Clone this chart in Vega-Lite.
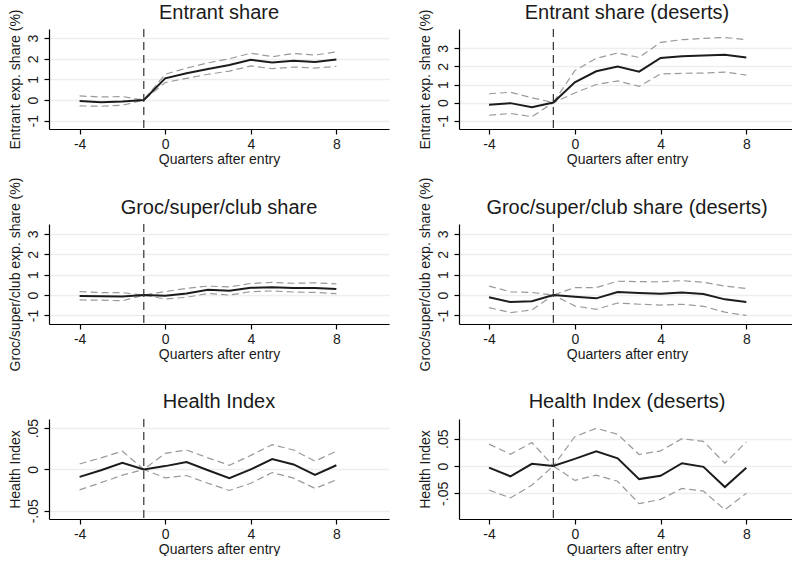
{
  "$schema": "https://vega.github.io/schema/vega-lite/v6.json",
  "padding": {"left": 7, "top": 2, "right": 0, "bottom": 0},
  "background": "white",
  "datasets": {
    "coef": [
      {"panel": "p1", "q": -4, "est": -0.05, "lo": -0.28, "hi": 0.2},
      {"panel": "p1", "q": -3, "est": -0.1, "lo": -0.3, "hi": 0.15},
      {"panel": "p1", "q": -2, "est": -0.07, "lo": -0.25, "hi": 0.17},
      {"panel": "p1", "q": -1, "est": 0, "lo": 0, "hi": 0},
      {"panel": "p1", "q": 0, "est": 1.05, "lo": 0.85, "hi": 1.25},
      {"panel": "p1", "q": 1, "est": 1.3, "lo": 1.05, "hi": 1.55},
      {"panel": "p1", "q": 2, "est": 1.5, "lo": 1.25, "hi": 1.8},
      {"panel": "p1", "q": 3, "est": 1.7, "lo": 1.4, "hi": 2.0},
      {"panel": "p1", "q": 4, "est": 1.95, "lo": 1.65, "hi": 2.27},
      {"panel": "p1", "q": 5, "est": 1.82, "lo": 1.52, "hi": 2.1},
      {"panel": "p1", "q": 6, "est": 1.9, "lo": 1.6, "hi": 2.25},
      {"panel": "p1", "q": 7, "est": 1.84, "lo": 1.55, "hi": 2.18},
      {"panel": "p1", "q": 8, "est": 1.96, "lo": 1.63, "hi": 2.33},

      {"panel": "p2", "q": -4, "est": -0.12, "lo": -0.7, "hi": 0.49},
      {"panel": "p2", "q": -3, "est": -0.03, "lo": -0.6, "hi": 0.57},
      {"panel": "p2", "q": -2, "est": -0.26, "lo": -0.78, "hi": 0.27},
      {"panel": "p2", "q": -1, "est": 0, "lo": 0, "hi": 0},
      {"panel": "p2", "q": 0, "est": 1.12, "lo": 0.53, "hi": 1.77},
      {"panel": "p2", "q": 1, "est": 1.73, "lo": 1.0, "hi": 2.45},
      {"panel": "p2", "q": 2, "est": 1.99, "lo": 1.2, "hi": 2.74},
      {"panel": "p2", "q": 3, "est": 1.71, "lo": 0.9, "hi": 2.5},
      {"panel": "p2", "q": 4, "est": 2.47, "lo": 1.58, "hi": 3.33},
      {"panel": "p2", "q": 5, "est": 2.56, "lo": 1.62, "hi": 3.48},
      {"panel": "p2", "q": 6, "est": 2.6, "lo": 1.63, "hi": 3.55},
      {"panel": "p2", "q": 7, "est": 2.65, "lo": 1.69, "hi": 3.6},
      {"panel": "p2", "q": 8, "est": 2.5, "lo": 1.52, "hi": 3.48},

      {"panel": "p3", "q": -4, "est": -0.04, "lo": -0.24, "hi": 0.17},
      {"panel": "p3", "q": -3, "est": -0.06, "lo": -0.25, "hi": 0.12},
      {"panel": "p3", "q": -2, "est": -0.07, "lo": -0.28, "hi": 0.12},
      {"panel": "p3", "q": -1, "est": 0, "lo": 0, "hi": 0},
      {"panel": "p3", "q": 0, "est": -0.03, "lo": -0.19, "hi": 0.17},
      {"panel": "p3", "q": 1, "est": 0.08, "lo": -0.11, "hi": 0.33},
      {"panel": "p3", "q": 2, "est": 0.26, "lo": 0.08, "hi": 0.44},
      {"panel": "p3", "q": 3, "est": 0.21, "lo": 0.0, "hi": 0.4},
      {"panel": "p3", "q": 4, "est": 0.36, "lo": 0.17, "hi": 0.57},
      {"panel": "p3", "q": 5, "est": 0.38, "lo": 0.2, "hi": 0.62},
      {"panel": "p3", "q": 6, "est": 0.35, "lo": 0.15, "hi": 0.58},
      {"panel": "p3", "q": 7, "est": 0.35, "lo": 0.13, "hi": 0.6},
      {"panel": "p3", "q": 8, "est": 0.3, "lo": 0.07, "hi": 0.55},

      {"panel": "p4", "q": -4, "est": -0.11, "lo": -0.62, "hi": 0.44},
      {"panel": "p4", "q": -3, "est": -0.34, "lo": -0.86, "hi": 0.16},
      {"panel": "p4", "q": -2, "est": -0.3, "lo": -0.73, "hi": 0.13},
      {"panel": "p4", "q": -1, "est": 0, "lo": 0, "hi": 0},
      {"panel": "p4", "q": 0, "est": -0.08, "lo": -0.53, "hi": 0.37},
      {"panel": "p4", "q": 1, "est": -0.16, "lo": -0.7, "hi": 0.37},
      {"panel": "p4", "q": 2, "est": 0.15, "lo": -0.39, "hi": 0.68},
      {"panel": "p4", "q": 3, "est": 0.1, "lo": -0.45, "hi": 0.66},
      {"panel": "p4", "q": 4, "est": 0.07, "lo": -0.49, "hi": 0.65},
      {"panel": "p4", "q": 5, "est": 0.13, "lo": -0.45, "hi": 0.71},
      {"panel": "p4", "q": 6, "est": 0.05, "lo": -0.55, "hi": 0.63},
      {"panel": "p4", "q": 7, "est": -0.21, "lo": -0.84, "hi": 0.44},
      {"panel": "p4", "q": 8, "est": -0.34, "lo": -1.0, "hi": 0.32},

      {"panel": "p5", "q": -4, "est": -0.009, "lo": -0.0247, "hi": 0.0066},
      {"panel": "p5", "q": -3, "est": -0.001, "lo": -0.016, "hi": 0.014},
      {"panel": "p5", "q": -2, "est": 0.008, "lo": -0.007, "hi": 0.022},
      {"panel": "p5", "q": -1, "est": 0, "lo": 0, "hi": 0},
      {"panel": "p5", "q": 0, "est": 0.004, "lo": -0.0102, "hi": 0.0195},
      {"panel": "p5", "q": 1, "est": 0.009, "lo": -0.0074, "hi": 0.0235},
      {"panel": "p5", "q": 2, "est": -0.001, "lo": -0.0167, "hi": 0.014},
      {"panel": "p5", "q": 3, "est": -0.0106, "lo": -0.0255, "hi": 0.005},
      {"panel": "p5", "q": 4, "est": 0.0, "lo": -0.0167, "hi": 0.017},
      {"panel": "p5", "q": 5, "est": 0.0126, "lo": -0.0038, "hi": 0.03},
      {"panel": "p5", "q": 6, "est": 0.006, "lo": -0.0106, "hi": 0.0235},
      {"panel": "p5", "q": 7, "est": -0.0066, "lo": -0.023, "hi": 0.01},
      {"panel": "p5", "q": 8, "est": 0.005, "lo": -0.0127, "hi": 0.022},

      {"panel": "p6", "q": -4, "est": -0.003, "lo": -0.044, "hi": 0.04},
      {"panel": "p6", "q": -3, "est": -0.019, "lo": -0.0585, "hi": 0.0215},
      {"panel": "p6", "q": -2, "est": 0.004, "lo": -0.035, "hi": 0.043},
      {"panel": "p6", "q": -1, "est": 0, "lo": 0, "hi": 0},
      {"panel": "p6", "q": 0, "est": 0.013, "lo": -0.0264, "hi": 0.0536},
      {"panel": "p6", "q": 1, "est": 0.027, "lo": -0.0167, "hi": 0.069},
      {"panel": "p6", "q": 2, "est": 0.014, "lo": -0.028, "hi": 0.058},
      {"panel": "p6", "q": 3, "est": -0.024, "lo": -0.069, "hi": 0.021},
      {"panel": "p6", "q": 4, "est": -0.018, "lo": -0.061, "hi": 0.0276},
      {"panel": "p6", "q": 5, "est": 0.005, "lo": -0.041, "hi": 0.05},
      {"panel": "p6", "q": 6, "est": -0.0015, "lo": -0.046, "hi": 0.045},
      {"panel": "p6", "q": 7, "est": -0.0385, "lo": -0.08, "hi": 0.005},
      {"panel": "p6", "q": 8, "est": -0.003, "lo": -0.05, "hi": 0.044}
    ]
  },
  "columns": 2,
  "bounds": "flush",
  "spacing": {"row": 95, "column": 70},
  "concat": [
    {
      "title": {"text": "Entrant share", "offset": -14},
      "width": 340, "height": 100,
      "layer": [
        {
          "data": {"name": "coef"},
          "transform": [{"filter": "datum.panel == 'p1'"}, {"fold": ["lo", "hi"], "as": ["bound", "value"]}],
          "mark": {"type": "line", "color": "#9a9a9a", "strokeWidth": 1.2, "strokeDash": [7, 4]},
          "encoding": {
            "x": {"field": "q", "type": "quantitative", "scale": {"domain": [-5.43, 10.46], "nice": false, "zero": false}, "axis": {"title": "Quarters after entry", "values": [-4, 0, 4, 8]}},
            "y": {"field": "value", "type": "quantitative", "scale": {"domain": [-1.4, 3.44], "nice": false, "zero": false}, "axis": {"title": "Entrant exp. share (%)", "values": [-1, 0, 1, 2, 3]}},
            "detail": {"field": "bound"}
          }
        },
        {
          "data": {"name": "coef"},
          "transform": [{"filter": "datum.panel == 'p1'"}],
          "mark": {"type": "line", "color": "#1c1c1c", "strokeWidth": 2},
          "encoding": {
            "x": {"field": "q", "type": "quantitative", "scale": {"domain": [-5.43, 10.46], "nice": false, "zero": false}, "axis": {"title": "Quarters after entry", "values": [-4, 0, 4, 8]}},
            "y": {"field": "est", "type": "quantitative", "scale": {"domain": [-1.4, 3.44], "nice": false, "zero": false}, "axis": {"title": "Entrant exp. share (%)", "values": [-1, 0, 1, 2, 3]}}
          }
        },
        {
          "data": {"values": [{"q": -1}]},
          "mark": {"type": "rule", "color": "#333333", "strokeWidth": 1.2, "strokeDash": [8, 5]},
          "encoding": {"x": {"field": "q", "type": "quantitative", "scale": {"domain": [-5.43, 10.46], "nice": false, "zero": false}}}
        }
      ]
    },
    {
      "title": {"text": "Entrant share (deserts)", "offset": -14},
      "width": 336, "height": 100,
      "layer": [
        {
          "data": {"name": "coef"},
          "transform": [{"filter": "datum.panel == 'p2'"}, {"fold": ["lo", "hi"], "as": ["bound", "value"]}],
          "mark": {"type": "line", "color": "#9a9a9a", "strokeWidth": 1.2, "strokeDash": [7, 4]},
          "encoding": {
            "x": {"field": "q", "type": "quantitative", "scale": {"domain": [-5.4, 10.27], "nice": false, "zero": false}, "axis": {"title": "Quarters after entry", "values": [-4, 0, 4, 8]}},
            "y": {"field": "value", "type": "quantitative", "scale": {"domain": [-1.46, 4.07], "nice": false, "zero": false}, "axis": {"title": "Entrant exp. share (%)", "values": [-1, 0, 1, 2, 3]}},
            "detail": {"field": "bound"}
          }
        },
        {
          "data": {"name": "coef"},
          "transform": [{"filter": "datum.panel == 'p2'"}],
          "mark": {"type": "line", "color": "#1c1c1c", "strokeWidth": 2},
          "encoding": {
            "x": {"field": "q", "type": "quantitative", "scale": {"domain": [-5.4, 10.27], "nice": false, "zero": false}, "axis": {"title": "Quarters after entry", "values": [-4, 0, 4, 8]}},
            "y": {"field": "est", "type": "quantitative", "scale": {"domain": [-1.46, 4.07], "nice": false, "zero": false}, "axis": {"title": "Entrant exp. share (%)", "values": [-1, 0, 1, 2, 3]}}
          }
        },
        {
          "data": {"values": [{"q": -1}]},
          "mark": {"type": "rule", "color": "#333333", "strokeWidth": 1.2, "strokeDash": [8, 5]},
          "encoding": {"x": {"field": "q", "type": "quantitative", "scale": {"domain": [-5.4, 10.27], "nice": false, "zero": false}}}
        }
      ]
    },
    {
      "title": {"text": "Groc/super/club share", "offset": -41},
      "width": 340, "height": 100,
      "layer": [
        {
          "data": {"name": "coef"},
          "transform": [{"filter": "datum.panel == 'p3'"}, {"fold": ["lo", "hi"], "as": ["bound", "value"]}],
          "mark": {"type": "line", "color": "#9a9a9a", "strokeWidth": 1.2, "strokeDash": [7, 4]},
          "encoding": {
            "x": {"field": "q", "type": "quantitative", "scale": {"domain": [-5.43, 10.46], "nice": false, "zero": false}, "axis": {"title": "Quarters after entry", "values": [-4, 0, 4, 8]}},
            "y": {"field": "value", "type": "quantitative", "scale": {"domain": [-1.42, 3.49], "nice": false, "zero": false}, "axis": {"title": "Groc/super/club exp. share (%)", "values": [-1, 0, 1, 2, 3]}},
            "detail": {"field": "bound"}
          }
        },
        {
          "data": {"name": "coef"},
          "transform": [{"filter": "datum.panel == 'p3'"}],
          "mark": {"type": "line", "color": "#1c1c1c", "strokeWidth": 2},
          "encoding": {
            "x": {"field": "q", "type": "quantitative", "scale": {"domain": [-5.43, 10.46], "nice": false, "zero": false}, "axis": {"title": "Quarters after entry", "values": [-4, 0, 4, 8]}},
            "y": {"field": "est", "type": "quantitative", "scale": {"domain": [-1.42, 3.49], "nice": false, "zero": false}, "axis": {"title": "Groc/super/club exp. share (%)", "values": [-1, 0, 1, 2, 3]}}
          }
        },
        {
          "data": {"values": [{"q": -1}]},
          "mark": {"type": "rule", "color": "#333333", "strokeWidth": 1.2, "strokeDash": [8, 5]},
          "encoding": {"x": {"field": "q", "type": "quantitative", "scale": {"domain": [-5.43, 10.46], "nice": false, "zero": false}}}
        }
      ]
    },
    {
      "title": {"text": "Groc/super/club share (deserts)", "offset": -41},
      "width": 336, "height": 100,
      "layer": [
        {
          "data": {"name": "coef"},
          "transform": [{"filter": "datum.panel == 'p4'"}, {"fold": ["lo", "hi"], "as": ["bound", "value"]}],
          "mark": {"type": "line", "color": "#9a9a9a", "strokeWidth": 1.2, "strokeDash": [7, 4]},
          "encoding": {
            "x": {"field": "q", "type": "quantitative", "scale": {"domain": [-5.4, 10.27], "nice": false, "zero": false}, "axis": {"title": "Quarters after entry", "values": [-4, 0, 4, 8]}},
            "y": {"field": "value", "type": "quantitative", "scale": {"domain": [-1.42, 3.49], "nice": false, "zero": false}, "axis": {"title": "Groc/super/club exp. share (%)", "values": [-1, 0, 1, 2, 3]}},
            "detail": {"field": "bound"}
          }
        },
        {
          "data": {"name": "coef"},
          "transform": [{"filter": "datum.panel == 'p4'"}],
          "mark": {"type": "line", "color": "#1c1c1c", "strokeWidth": 2},
          "encoding": {
            "x": {"field": "q", "type": "quantitative", "scale": {"domain": [-5.4, 10.27], "nice": false, "zero": false}, "axis": {"title": "Quarters after entry", "values": [-4, 0, 4, 8]}},
            "y": {"field": "est", "type": "quantitative", "scale": {"domain": [-1.42, 3.49], "nice": false, "zero": false}, "axis": {"title": "Groc/super/club exp. share (%)", "values": [-1, 0, 1, 2, 3]}}
          }
        },
        {
          "data": {"values": [{"q": -1}]},
          "mark": {"type": "rule", "color": "#333333", "strokeWidth": 1.2, "strokeDash": [8, 5]},
          "encoding": {"x": {"field": "q", "type": "quantitative", "scale": {"domain": [-5.4, 10.27], "nice": false, "zero": false}}}
        }
      ]
    },
    {
      "title": {"text": "Health Index", "offset": 6},
      "width": 340, "height": 100,
      "layer": [
        {
          "data": {"name": "coef"},
          "transform": [{"filter": "datum.panel == 'p5'"}, {"fold": ["lo", "hi"], "as": ["bound", "value"]}],
          "mark": {"type": "line", "color": "#9a9a9a", "strokeWidth": 1.2, "strokeDash": [7, 4]},
          "encoding": {
            "x": {"field": "q", "type": "quantitative", "scale": {"domain": [-5.43, 10.46], "nice": false, "zero": false}, "axis": {"title": "Quarters after entry", "values": [-4, 0, 4, 8]}},
            "y": {"field": "value", "type": "quantitative", "scale": {"domain": [-0.06, 0.061], "nice": false, "zero": false}, "axis": {"title": "Health Index", "values": [-0.05, 0, 0.05], "labelExpr": "datum.value == 0 ? '0' : (datum.value < 0 ? '-' : '') + replace(format(abs(datum.value), '.2f'), '0.', '.')"}},
            "detail": {"field": "bound"}
          }
        },
        {
          "data": {"name": "coef"},
          "transform": [{"filter": "datum.panel == 'p5'"}],
          "mark": {"type": "line", "color": "#1c1c1c", "strokeWidth": 2},
          "encoding": {
            "x": {"field": "q", "type": "quantitative", "scale": {"domain": [-5.43, 10.46], "nice": false, "zero": false}, "axis": {"title": "Quarters after entry", "values": [-4, 0, 4, 8]}},
            "y": {"field": "est", "type": "quantitative", "scale": {"domain": [-0.06, 0.061], "nice": false, "zero": false}, "axis": {"title": "Health Index", "values": [-0.05, 0, 0.05], "labelExpr": "datum.value == 0 ? '0' : (datum.value < 0 ? '-' : '') + replace(format(abs(datum.value), '.2f'), '0.', '.')"}}
          }
        },
        {
          "data": {"values": [{"q": -1}]},
          "mark": {"type": "rule", "color": "#333333", "strokeWidth": 1.2, "strokeDash": [8, 5]},
          "encoding": {"x": {"field": "q", "type": "quantitative", "scale": {"domain": [-5.43, 10.46], "nice": false, "zero": false}}}
        }
      ]
    },
    {
      "title": {"text": "Health Index (deserts)", "offset": 6},
      "width": 336, "height": 100,
      "layer": [
        {
          "data": {"name": "coef"},
          "transform": [{"filter": "datum.panel == 'p6'"}, {"fold": ["lo", "hi"], "as": ["bound", "value"]}],
          "mark": {"type": "line", "color": "#9a9a9a", "strokeWidth": 1.2, "strokeDash": [7, 4]},
          "encoding": {
            "x": {"field": "q", "type": "quantitative", "scale": {"domain": [-5.4, 10.27], "nice": false, "zero": false}, "axis": {"title": "Quarters after entry", "values": [-4, 0, 4, 8]}},
            "y": {"field": "value", "type": "quantitative", "scale": {"domain": [-0.097, 0.086], "nice": false, "zero": false}, "axis": {"title": "Health Index", "values": [-0.05, 0, 0.05], "labelExpr": "datum.value == 0 ? '0' : (datum.value < 0 ? '-' : '') + replace(format(abs(datum.value), '.2f'), '0.', '.')"}},
            "detail": {"field": "bound"}
          }
        },
        {
          "data": {"name": "coef"},
          "transform": [{"filter": "datum.panel == 'p6'"}],
          "mark": {"type": "line", "color": "#1c1c1c", "strokeWidth": 2},
          "encoding": {
            "x": {"field": "q", "type": "quantitative", "scale": {"domain": [-5.4, 10.27], "nice": false, "zero": false}, "axis": {"title": "Quarters after entry", "values": [-4, 0, 4, 8]}},
            "y": {"field": "est", "type": "quantitative", "scale": {"domain": [-0.097, 0.086], "nice": false, "zero": false}, "axis": {"title": "Health Index", "values": [-0.05, 0, 0.05], "labelExpr": "datum.value == 0 ? '0' : (datum.value < 0 ? '-' : '') + replace(format(abs(datum.value), '.2f'), '0.', '.')"}}
          }
        },
        {
          "data": {"values": [{"q": -1}]},
          "mark": {"type": "rule", "color": "#333333", "strokeWidth": 1.2, "strokeDash": [8, 5]},
          "encoding": {"x": {"field": "q", "type": "quantitative", "scale": {"domain": [-5.4, 10.27], "nice": false, "zero": false}}}
        }
      ]
    }
  ],
  "config": {
    "font": "Liberation Sans",
    "view": {"stroke": null},
    "title": {"fontSize": 20, "fontWeight": "normal", "color": "#1a1a1a", "frame": "group", "anchor": "middle"},
    "axis": {
      "domainColor": "#000000",
      "domainWidth": 1.2,
      "tickColor": "#000000",
      "tickWidth": 1.2,
      "tickSize": 5,
      "labelColor": "#1a1a1a",
      "titleColor": "#1a1a1a",
      "labelFontSize": 14,
      "titleFontSize": 14,
      "titleFontWeight": "normal",
      "gridColor": "#eeeeee",
      "gridWidth": 1.5
    },
    "axisX": {"grid": false, "labelPadding": 3, "titlePadding": 1, "labelFlush": false, "labelExpr": "'' + datum.value"},
    "axisY": {"grid": true, "labelAngle": -90, "labelAlign": "center", "labelBaseline": "bottom", "labelPadding": 4, "titlePadding": 4, "labelFlush": false, "labelExpr": "'' + datum.value"}
  }
}
